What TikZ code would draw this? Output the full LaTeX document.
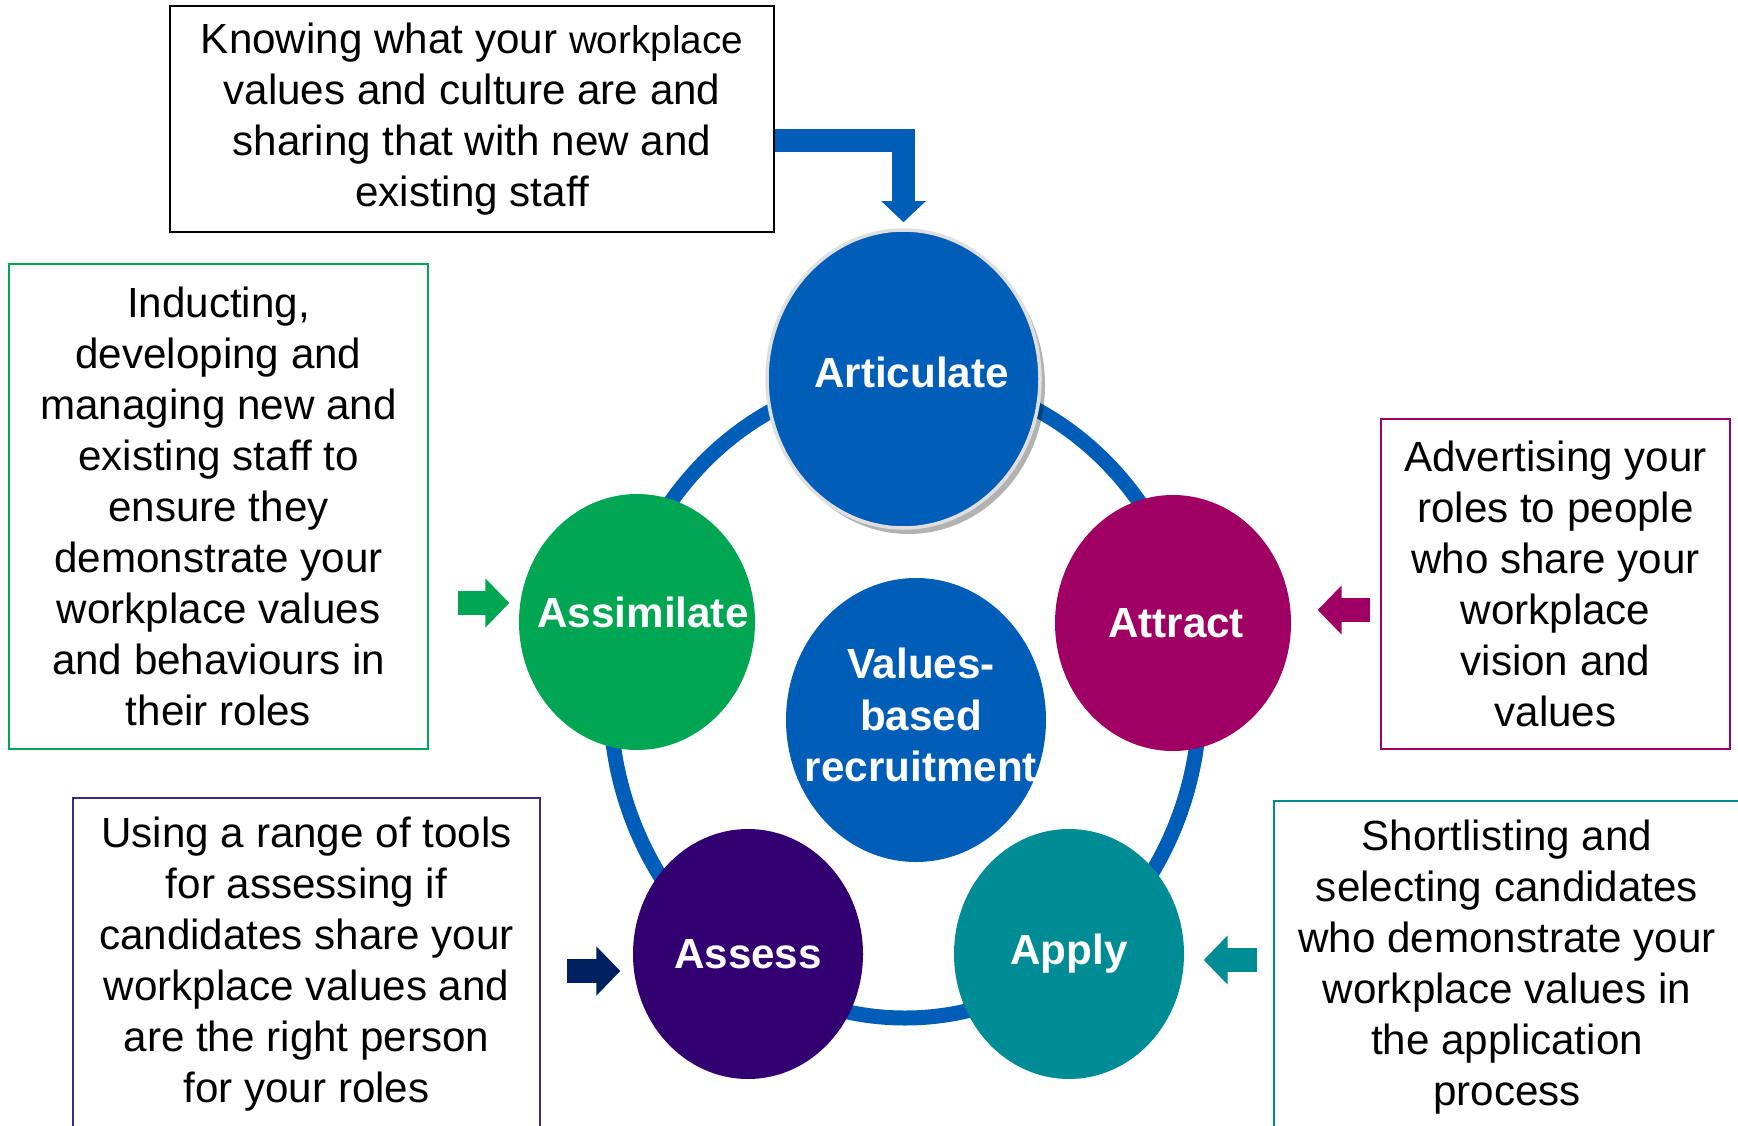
\documentclass[tikz,border=0pt]{standalone}
\usepackage{fontspec}
\setmainfont{Liberation Sans}
\usetikzlibrary{shapes.geometric,arrows.meta,shadows}

\definecolor{nhsblue}{RGB}{0,94,184}
\definecolor{vbgreen}{RGB}{0,166,81}
\definecolor{vbmagenta}{RGB}{160,0,100}
\definecolor{vbpurple}{RGB}{51,0,114}
\definecolor{vbteal}{RGB}{0,140,149}
\definecolor{vbnavy}{RGB}{0,32,96}
\definecolor{vbviolet}{RGB}{60,40,140}

\begin{document}
\begin{tikzpicture}[font=\fontsize{12}{14.5}\selectfont,
	textbox/.style={draw, line width=0.6pt, align=center, inner sep=0pt},
	phase/.style={ellipse, inner sep=0pt},
	phasetext/.style={text=white, align=center, font=\fontsize{12}{14.6}\selectfont\bfseries},
	blockarrow/.style={line width=0.24cm, -{Triangle[length=0.24cm, width=0.48cm]}}]
	\useasboundingbox (0,0) rectangle (17.38,11.25);
%	\draw [help lines] (0,0) grid (17,11);
	%Anello
	\draw [nhsblue, line width=0.15cm] (9.05,4.28) ellipse [x radius=2.95, y radius=3.21];
	%Fasi
	\node [phase, fill=nhsblue, draw=gray!25, line width=1pt, minimum width=2.73cm, minimum height=2.98cm,
		drop shadow={shadow xshift=0.05cm, shadow yshift=-0.06cm, opacity=0.3, fill=black},
		label={[phasetext, xshift=0.08cm, yshift=0.07cm]center:Articulate}] (artic) at (9.035,7.46) {};
	\node [phase, fill=vbmagenta, minimum width=2.36cm, minimum height=2.56cm,
		label={[phasetext, xshift=0.03cm]center:Attract}] (attract) at (11.73,5.02) {};
	\node [phase, fill=vbgreen, minimum width=2.36cm, minimum height=2.56cm,
		label={[phasetext, xshift=0.06cm, yshift=0.1cm]center:Assimilate}] (assim) at (6.37,5.03) {};
	\node [phase, fill=vbpurple, minimum width=2.30cm, minimum height=2.50cm,
		label={[phasetext]center:Assess}] (assess) at (7.48,1.71) {};
	\node [phase, fill=vbteal, minimum width=2.30cm, minimum height=2.50cm,
		label={[phasetext]center:Apply}] (apply) at (10.69,1.71) {};
	\node [phase, fill=nhsblue, minimum width=2.60cm, minimum height=2.84cm,
		label={[phasetext, xshift=0.05cm, yshift=0.05cm]center:Values-\\based\\recruitment}] (vbr) at (9.16,4.05) {};
	%Riquadri
	\node [textbox, minimum width=6.04cm, minimum height=2.26cm] (know) at (4.72,10.06)
		{Knowing what your {\fontsize{11}{14.5}\selectfont workplace}\\values and culture are and\\sharing that with new and\\existing staff};
	\node [textbox, draw=vbgreen, minimum width=4.19cm, minimum height=4.85cm] (induct) at (2.185,6.185)
		{Inducting,\\developing and\\managing new and\\existing staff to\\ensure they\\demonstrate your\\workplace values\\and behaviours in\\their roles};
	\node [textbox, draw=vbmagenta, minimum width=3.49cm, minimum height=3.30cm] (advert) at (15.555,5.41)
		{Advertising your\\roles to people\\who share your\\workplace\\vision and\\values};
	\node [textbox, draw=vbviolet, minimum width=4.67cm, minimum height=3.32cm] (tools) at (3.065,1.61)
		{Using a range of tools\\for assessing if\\candidates share your\\workplace values and\\are the right person\\for your roles};
	\node [textbox, draw=vbteal, minimum width=4.66cm, minimum height=3.32cm] (shortlist) at (15.07,1.58)
		{Shortlisting and\\selecting candidates\\who demonstrate your\\workplace values in\\the application\\process};
	%Frecce
	\draw [nhsblue, line width=0.23cm, line join=miter, -{Triangle[length=0.21cm, width=0.43cm]}]
		([yshift=-0.215cm]know.east) -| ([yshift=0.06cm]artic.north);
	\coordinate (gtip) at ([shift={(-0.09,0.19)}]assim.west);
	\draw [blockarrow, vbgreen, shorten <=0.29cm] (gtip -| induct.east) -- (gtip);
	\coordinate (mtip) at ([shift={(0.26,0.13)}]attract.east);
	\draw [blockarrow, vbmagenta, shorten <=0.10cm] (mtip -| advert.west) -- (mtip);
	\coordinate (ntip) at ([shift={(-0.12,-0.17)}]assess.west);
	\draw [blockarrow, vbnavy, shorten <=0.26cm] (ntip -| tools.east) -- (ntip);
	\coordinate (ttip) at ([shift={(0.19,-0.06)}]apply.east);
	\draw [blockarrow, vbteal, shorten <=0.16cm] (ttip -| shortlist.west) -- (ttip);
\end{tikzpicture}
\end{document}
